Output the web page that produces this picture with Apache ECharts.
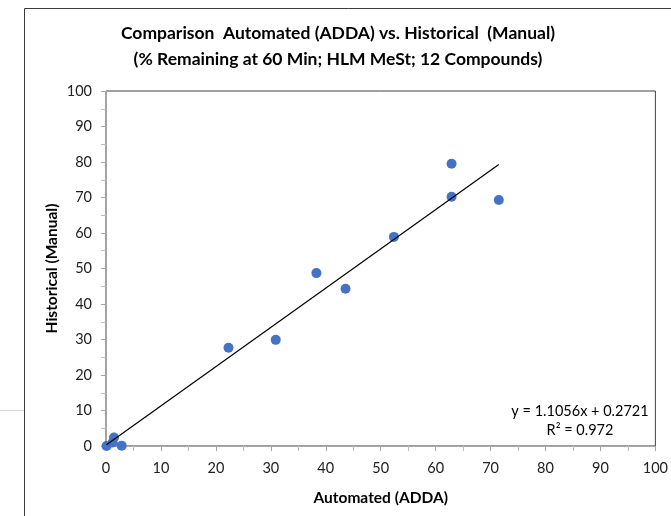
<!DOCTYPE html>
<html>
<head>
<meta charset="utf-8">
<script src="https://cdn.jsdelivr.net/npm/echarts@6/dist/echarts.min.js"></script>
<style>
  html, body { margin: 0; padding: 0; background: #fff; }
  #chart { width: 671px; height: 516px; }
</style>
</head>
<body>
<div id="chart"></div>
<script>
// % remaining at 60 min, automated (ADDA) vs. historical (manual) assay
const automated  = [0.1, 1.2, 1.45, 2.85, 22.3, 30.9, 38.3, 43.6, 52.4, 62.9, 62.9, 71.5];
const historical = [0.0, 1.0, 2.4, 0.1, 27.7, 29.9, 48.7, 44.3, 58.9, 79.5, 70.2, 69.3];

// Linear trendline fitted to the data above
const slope = 1.1056;
const intercept = 0.2721;
const rSquared = 0.972;

const axisTicks = [0, 10, 20, 30, 40, 50, 60, 70, 80, 90, 100];

const points = automated.map((x, i) => [x, historical[i]]);
const xMin = Math.min(...automated);
const xMax = Math.max(...automated);
const trend = [[xMin, slope * xMin + intercept], [xMax, slope * xMax + intercept]];

const FONT = 'Lato';
const chart = echarts.init(document.getElementById('chart'), null, { renderer: 'canvas' });

chart.setOption({
  animation: false,
  backgroundColor: '#ffffff',
  title: [{
    text: 'Comparison  Automated (ADDA) vs. Historical  (Manual)\n(% Remaining at 60 Min; HLM MeSt; 12 Compounds)',
    left: 333,
    top: 15,
    textAlign: 'center',
    textStyle: { fontFamily: FONT, fontSize: 17.5, fontWeight: 'bold', color: '#000', lineHeight: 26 }
  }, {
    text: 'y = ' + slope + 'x + ' + intercept + '\nR² = ' + rSquared,
    left: 575,
    top: 397,
    textAlign: 'center',
    textStyle: { fontFamily: FONT, fontSize: 14.5, fontWeight: 'normal', color: '#000', lineHeight: 19 }
  }],
  grid: {
    left: 106, right: 15, top: 91, bottom: 70,
    show: true, borderColor: '#404040', borderWidth: 1, backgroundColor: 'transparent'
  },
  xAxis: {
    type: 'value', min: axisTicks[0], max: axisTicks[axisTicks.length - 1], interval: 10,
    name: 'Automated (ADDA)', nameLocation: 'middle', nameGap: 44, nameMoveOverlap: false,
    nameTextStyle: { fontFamily: FONT, fontSize: 15.5, fontWeight: 'bold', color: '#000' },
    axisLine: { show: true, lineStyle: { color: '#a6a6a6', width: 1 } },
    axisTick: { show: true, inside: false, length: 5, lineStyle: { color: '#a6a6a6' } },
    minorTick: { show: true, splitNumber: 2, length: 5, lineStyle: { color: '#bfbfbf' } },
    splitLine: { show: false },
    axisLabel: { fontFamily: FONT, fontSize: 14.5, color: '#222', margin: 15 }
  },
  yAxis: {
    type: 'value', min: axisTicks[0], max: axisTicks[axisTicks.length - 1], interval: 10,
    name: 'Historical (Manual)', nameLocation: 'middle', nameGap: 46, nameRotate: 90, nameMoveOverlap: false,
    nameTextStyle: { fontFamily: FONT, fontSize: 15.5, fontWeight: 'bold', color: '#000' },
    axisLine: { show: true, lineStyle: { color: '#a6a6a6', width: 1 } },
    axisTick: { show: true, inside: false, length: 5, lineStyle: { color: '#a6a6a6' } },
    minorTick: { show: true, splitNumber: 2, length: 5, lineStyle: { color: '#bfbfbf' } },
    splitLine: { show: false },
    axisLabel: { fontFamily: FONT, fontSize: 14.5, color: '#222', margin: 14 }
  },
  series: [{
    type: 'line',
    data: trend,
    symbol: 'none',
    lineStyle: { color: '#000', width: 1.2 },
    z: 3,
    silent: true
  }, {
    type: 'scatter',
    data: points,
    symbol: 'circle',
    symbolSize: 10,
    itemStyle: { color: '#4472C4', opacity: 1 },
    z: 2
  }],
  graphic: [{
    type: 'rect',
    shape: { x: 24.5, y: 8.5, width: 700, height: 600 },
    style: { fill: 'none', stroke: '#3a3a3a', lineWidth: 1 },
    silent: true, z: -1
  }, {
    type: 'line',
    shape: { x1: 0, y1: 410.5, x2: 24, y2: 410.5 },
    style: { stroke: '#d9d9d9', lineWidth: 1 },
    silent: true
  }]
});
</script>
</body>
</html>
